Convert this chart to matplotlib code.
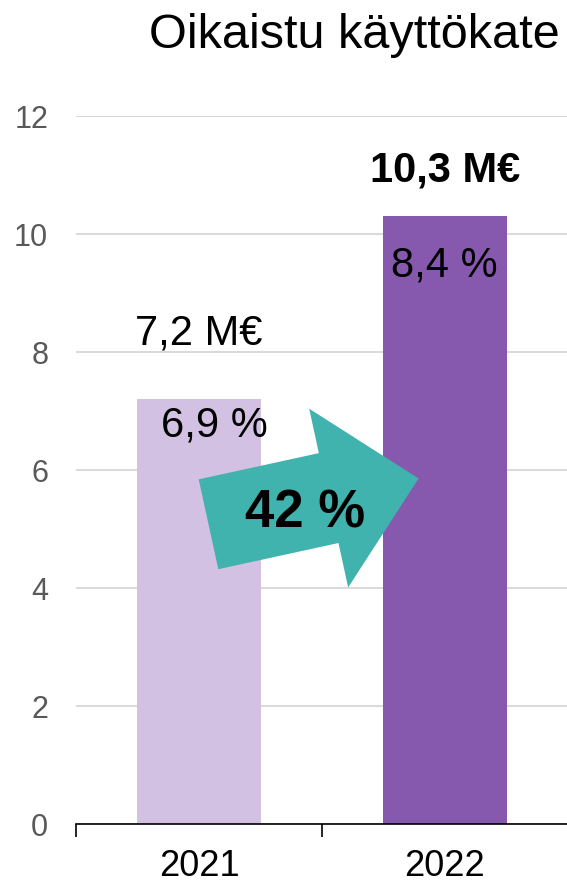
import matplotlib
matplotlib.use("Agg")
import matplotlib.pyplot as plt
from matplotlib.patches import FancyArrow
from matplotlib.transforms import Affine2D, ScaledTranslation

plt.rcParams['font.family'] = ['Liberation Sans', 'DejaVu Sans']

# ---- data ----
years = ["2021", "2022"]
values = [7.2, 10.3]
value_labels = ["7,2 M€", "10,3 M€"]
share_labels = ["6,9 %", "8,4 %"]
growth_label = "42 %"
title = "Oikaistu käyttökate"
yticks = [0, 2, 4, 6, 8, 10, 12]

# ---- styles ----
bar_colors = ["#D2C1E2", "#8759AE"]
teal = "#41B3AE"
PX = 0.72  # points per pixel at dpi 100

fig = plt.figure(figsize=(5.67, 8.84), dpi=100)
ax = fig.add_axes([76 / 567, 60 / 884, 491 / 567, 708 / 884])

x = list(range(len(years)))
ax.bar(x, values, width=0.504, color=bar_colors, zorder=2)

ax.set_xlim(-0.5, -0.5 + 491 / 246)
ax.set_ylim(0, 12)
ax.set_yticks(yticks)
ax.set_yticklabels([str(t) for t in yticks], fontsize=22, color="#595959")
ax.tick_params(axis="y", length=0, pad=20)
ax.grid(axis="y", color="#D9D9D9", linewidth=1.4, zorder=0)
ax.set_axisbelow(True)

ax.set_xticks(x)
ax.set_xticklabels(years, fontsize=26, color="black")
ax.set_xticks([-0.5, 0.5], minor=True)
ax.tick_params(axis="x", which="major", length=0, pad=18)
ax.tick_params(axis="x", which="minor", length=9, width=1.2, color="black", direction="out")

for s in ["top", "right", "left"]:
    ax.spines[s].set_visible(False)
ax.spines["bottom"].set_color("black")
ax.spines["bottom"].set_linewidth(1.2)

# value labels above bars
above_offsets = [(0, 66), (0, 46)]
weights = ["normal", "bold"]
for i, (v, lab) in enumerate(zip(values, value_labels)):
    dx, dy = above_offsets[i]
    ax.annotate(lab, xy=(i, v), xytext=(dx * PX, dy * PX), textcoords="offset points",
                ha="center", va="center", fontsize=30, fontweight=weights[i], color="black")

# share labels inside bars
inside_offsets = [(15, -26), (-1, -49)]
for i, (v, lab) in enumerate(zip(values, share_labels)):
    dx, dy = inside_offsets[i]
    ax.annotate(lab, xy=(i, v), xytext=(dx * PX, dy * PX), textcoords="offset points",
                ha="center", va="center", fontsize=30, color="black", zorder=3)

# growth arrow (pixel units, anchored at a data point between bars)
tail_x, tail_y = 0.0386, 5.08
arrow = FancyArrow(0, 0, 215, 0, width=92, head_width=183, head_length=92,
                   length_includes_head=True, color=teal, linewidth=0,
                   transform=Affine2D().rotate_deg(12.3) + ScaledTranslation(tail_x, tail_y, ax.transData),
                   zorder=4, clip_on=False)
ax.add_patch(arrow)
ax.text(0.431, 5.27, growth_label, ha="center", va="center", fontsize=38,
        fontweight="bold", color="black", zorder=5)

fig.text(560 / 567, 1 - 36 / 884, title, ha="right", va="center", fontsize=35, color="black")

fig.savefig("out.png", dpi=100)
